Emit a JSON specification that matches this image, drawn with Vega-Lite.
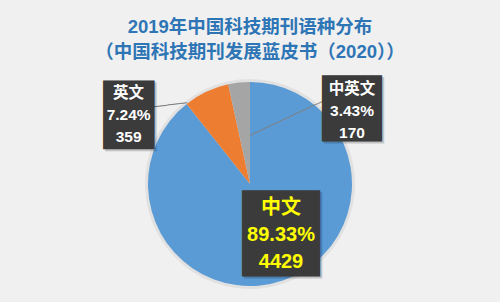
{
  "$schema": "https://vega.github.io/schema/vega-lite/v6.json",
  "width": 500,
  "height": 302,
  "autosize": {"type": "fit", "contains": "padding"},
  "padding": {"top": 17, "bottom": 0, "left": 0, "right": 0},
  "background": "#f0f0f0",
  "title": {
    "text": ["2019年中国科技期刊语种分布", "（中国科技期刊发展蓝皮书（2020））"],
    "font": "Liberation Sans, Noto Sans CJK SC",
    "fontSize": 18.5,
    "fontWeight": "bold",
    "color": "#2E75B6",
    "lineHeight": 25,
    "offset": 5,
    "anchor": "middle"
  },
  "config": {"view": {"stroke": null}},
  "data": {
    "values": [
      {"cat": "中文", "count": 4429, "pct": 0.8933},
      {"cat": "英文", "count": 359, "pct": 0.0724},
      {"cat": "中英文", "count": 170, "pct": 0.0343}
    ]
  },
  "transform": [
    {"calculate": "datum.cat + '\\n' + format(datum.pct, '.2%') + '\\n' + datum.count", "as": "label"}
  ],
  "encoding": {
    "theta": {"field": "count", "type": "quantitative", "stack": true},
    "order": {"field": "count", "sort": "descending"},
    "detail": {"field": "cat", "type": "nominal"}
  },
  "layer": [
    {
      "mark": {"type": "arc", "radius": 105, "color": "#000", "opacity": 0.06}
    },
    {
      "mark": {"type": "arc", "radius": 102},
      "encoding": {
        "color": {
          "field": "cat", "type": "nominal", "legend": null,
          "scale": {"domain": ["中文", "英文", "中英文"], "range": ["#5B9BD5", "#ED7D31", "#A5A5A5"]}
        }
      }
    },
    {
      "mark": {"type": "text", "font": "DejaVu Sans Mono", "fontSize": 11, "color": "#7f7f7f", "align": "center", "baseline": "middle", "radius": 0, "angle": -6.9, "dx": -69.4, "dy": -87.5},
      "encoding": {"text": {"condition": {"test": "datum.cat === '英文'", "value": "─────"}, "value": ""}}
    },
    {
      "mark": {"type": "text", "font": "DejaVu Sans Mono", "fontSize": 11.1, "color": "#7f7f7f", "align": "center", "baseline": "middle", "radius": 0, "angle": -25.3, "dx": 60.6, "dy": -43},
      "encoding": {"text": {"condition": {"test": "datum.cat === '中英文'", "value": "────────────"}, "value": ""}}
    },
    {
      "mark": {"type": "text", "font": "DejaVu Sans Mono", "fontSize": 30.2, "color": "#000", "opacity": 0.18, "stroke": "#000", "strokeWidth": 32.8, "strokeJoin": "miter", "align": "center", "baseline": "middle", "radius": 77, "dx": -86.4, "dy": 3.1},
      "encoding": {"text": {"condition": {"test": "datum.cat === '英文'", "value": "█"}, "value": ""}}
    },
    {
      "mark": {"type": "text", "font": "DejaVu Sans Mono", "fontSize": 30.2, "color": "#3b3b3b", "stroke": "#3b3b3b", "strokeWidth": 32.8, "strokeJoin": "miter", "align": "center", "baseline": "middle", "radius": 77, "dx": -88.4, "dy": 1.1},
      "encoding": {"text": {"condition": {"test": "datum.cat === '英文'", "value": "█"}, "value": ""}}
    },
    {
      "mark": {"type": "text", "font": "DejaVu Sans Mono", "fontSize": 10.7, "color": "#000", "opacity": 0.18, "stroke": "#000", "strokeWidth": 53.6, "strokeJoin": "miter", "align": "center", "baseline": "middle", "radius": 74.5, "dx": 112, "dy": 0.6},
      "encoding": {"text": {"condition": {"test": "datum.cat === '中英文'", "value": "█"}, "value": ""}}
    },
    {
      "mark": {"type": "text", "font": "DejaVu Sans Mono", "fontSize": 10.7, "color": "#3b3b3b", "stroke": "#3b3b3b", "strokeWidth": 53.6, "strokeJoin": "miter", "align": "center", "baseline": "middle", "radius": 74.5, "dx": 110, "dy": -1.4},
      "encoding": {"text": {"condition": {"test": "datum.cat === '中英文'", "value": "█"}, "value": ""}}
    },
    {
      "mark": {"type": "text", "font": "DejaVu Sans Mono", "fontSize": 14.2, "color": "#000", "opacity": 0.18, "stroke": "#000", "strokeWidth": 69.4, "strokeJoin": "miter", "align": "center", "baseline": "middle", "radius": 52, "dx": 15.9, "dy": 2.6},
      "encoding": {"text": {"condition": {"test": "datum.cat === '中文'", "value": "█"}, "value": ""}}
    },
    {
      "mark": {"type": "text", "font": "DejaVu Sans Mono", "fontSize": 14.2, "color": "#3b3b3b", "stroke": "#3b3b3b", "strokeWidth": 69.4, "strokeJoin": "miter", "align": "center", "baseline": "middle", "radius": 52, "dx": 13.9, "dy": 0.6},
      "encoding": {"text": {"condition": {"test": "datum.cat === '中文'", "value": "█"}, "value": ""}}
    },
    {
      "mark": {"type": "text", "font": "Liberation Sans, Noto Sans CJK SC", "fontSize": 15.5, "fontWeight": "bold", "color": "#ffffff", "lineBreak": "\n", "lineHeight": 22, "align": "center", "baseline": "middle", "radius": 77, "dx": -88.4, "dy": -21},
      "encoding": {"text": {"condition": {"test": "datum.cat === '英文'", "field": "label"}, "value": ""}}
    },
    {
      "mark": {"type": "text", "font": "Liberation Sans, Noto Sans CJK SC", "fontSize": 15.5, "fontWeight": "bold", "color": "#ffffff", "lineBreak": "\n", "lineHeight": 22, "align": "center", "baseline": "middle", "radius": 74.5, "dx": 110, "dy": -21},
      "encoding": {"text": {"condition": {"test": "datum.cat === '中英文'", "field": "label"}, "value": ""}}
    },
    {
      "mark": {"type": "text", "font": "Liberation Sans, Noto Sans CJK SC", "fontSize": 20, "fontWeight": "bold", "color": "#ffff00", "lineBreak": "\n", "lineHeight": 27, "align": "center", "baseline": "middle", "radius": 52, "dx": 13.9, "dy": -25},
      "encoding": {"text": {"condition": {"test": "datum.cat === '中文'", "field": "label"}, "value": ""}}
    }
  ]
}
